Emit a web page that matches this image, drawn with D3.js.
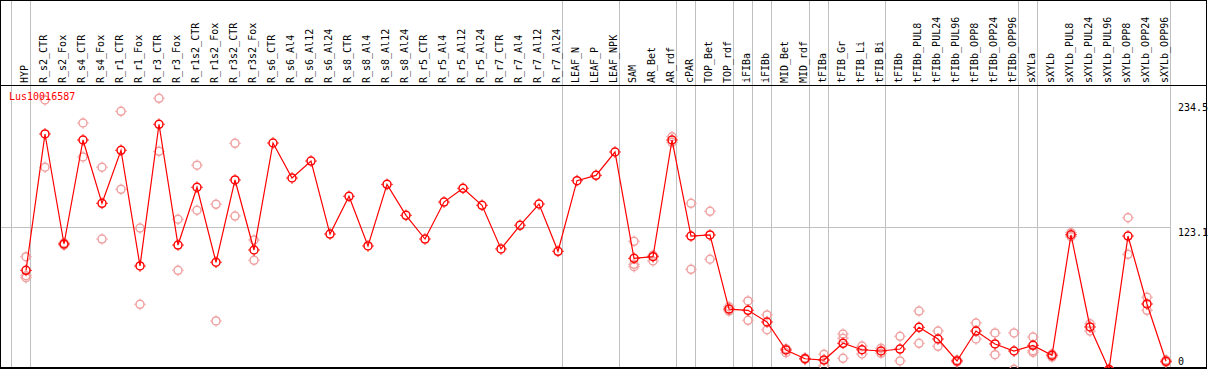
<!DOCTYPE html>
<html>
<head>
<meta charset="utf-8">
<script src="https://cdn.jsdelivr.net/npm/d3@7"></script>
<style>
  body { margin: 0; background: #fff; }
  text { font-family: "DejaVu Sans Mono", "Liberation Mono", monospace; font-size: 10px; }
</style>
</head>
<body>
<svg id="chart" width="1209" height="370"></svg>
<script>
var geneName = "Lus10016587";

var samples = ["HYP","R_s2_CTR","R_s2_Fox","R_s4_CTR","R_s4_Fox","R_r1_CTR","R_r1_Fox","R_r3_CTR","R_r3_Fox",
  "R_r1s2_CTR","R_r1s2_Fox","R_r3s2_CTR","R_r3s2_Fox","R_s6_CTR","R_s6_Al4","R_s6_Al12","R_s6_Al24",
  "R_s8_CTR","R_s8_Al4","R_s8_Al12","R_s8_Al24","R_r5_CTR","R_r5_Al4","R_r5_Al12","R_r5_Al24",
  "R_r7_CTR","R_r7_Al4","R_r7_Al12","R_r7_Al24","LEAF_N","LEAF_P","LEAF_NPK","SAM","AR_Bet","AR_rdf",
  "cPAR","TOP_Bet","TOP_rdf","iFIBa","iFIBb","MID_Bet","MID_rdf","tFIBa","tFIB_Gr","tFIB_Li","tFIB_Bi",
  "tFIBb","tFIBb_PUL8","tFIBb_PUL24","tFIBb_PUL96","tFIBb_OPP8","tFIBb_OPP24","tFIBb_OPP96",
  "sXYLa","sXYLb","sXYLb_PUL8","sXYLb_PUL24","sXYLb_PUL96","sXYLb_OPP8","sXYLb_OPP24","sXYLb_OPP96"];

// mean expression per sample
var meanValues = [85.8,203.8,108.6,198.6,143.8,189.7,89.6,212.2,107.7,157.7,92.8,164.0,103.4,
  196.0,165.7,180.4,117.2,149.9,106.9,160.2,133.4,112.9,144.9,156.8,142.1,104.3,124.8,143.2,102.3,
  163.4,168.0,188.2,96.2,97.6,198.6,115.5,116.4,52.3,51.2,41.1,16.9,9.3,8.2,22.7,17.1,16.0,
  17.7,36.5,26.4,7.4,33.3,22.1,16.0,20.9,12.3,116.6,36.8,0,115.5,56.7,7.1];

// replicates (null = none shown)
var rep1 = [97.6,233.2,109.5,213.3,175.0,223.4,122.4,234.7,130.0,176.8,142.9,195.7,112.1,
  null,null,null,null,null,null,null,null,null,null,null,null,null,null,null,null,null,null,null,
  110.9,98.8,201.4,143.8,136.9,54.3,59.3,47.2,18.0,10.0,13.2,30.7,20.3,18.3,
  28.7,50.6,33.3,8.2,40.2,31.6,31.6,28.1,13.4,118.4,39.6,0.2,131.3,62.5,8.2];
var rep2 = [81.2,175.0,107.7,183.9,112.9,155.9,56.4,188.8,85.8,137.8,42.0,132.8,94.5,
  null,null,null,null,null,null,null,null,null,null,null,null,null,null,null,null,null,null,null,
  91.0,93.9,196.6,86.7,95.4,50.6,42.6,34.4,14.5,8.7,3.3,27.0,13.4,14.0,
  7.4,22.7,20.1,6.5,26.4,12.8,0.2,16.3,10.8,114.9,33.3,0,99.7,51.2,6.1];
var rep3 = [79.4,null,null,null,null,null,null,null,null,null,null,null,null,
  null,null,null,null,null,null,null,null,null,null,null,null,null,null,null,null,null,null,null,
  89.0,null,null,null,null,null,null,null,null,null,null,9.7,null,null,
  null,null,null,null,null,null,null,14.9,null,null,null,null,null,null,null];

// sample index after which a group separator is drawn
var groupBreaks = [0,1,29,32,35,36,38,39,40,42,43,46,53,54,61];

var axisTicks = [234.5, 123.1, 0];
var refLine = 123.1;

var svg = d3.select('#chart'),
    width = +svg.attr('width'),
    height = +svg.attr('height');

var headerBottom = 85,
    plotBottom = 368;

var x = d3.scaleBand()
    .domain(samples)
    .range([11, 1170]);

var y = d3.scaleLinear()
    .domain([0, 234.5])
    .range([369.5, 98.5]);

function px(i) { return x(samples[i]) + x.bandwidth() - 4; }

svg.append('defs').append('clipPath').attr('id', 'plotclip')
  .append('rect')
    .attr('x', 1).attr('y', headerBottom + 1)
    .attr('width', 1205).attr('height', plotBottom - headerBottom - 1);

// group separators
svg.append('g').selectAll('line')
  .data(groupBreaks)
  .enter().append('line')
    .attr('x1', function(d) { return 11 + d * x.bandwidth() + 0.5; })
    .attr('x2', function(d) { return 11 + d * x.bandwidth() + 0.5; })
    .attr('y1', 0)
    .attr('y2', plotBottom)
    .attr('stroke', '#c0c0c0');

// reference line
svg.append('line')
    .attr('x1', 1).attr('x2', 1170)
    .attr('y1', Math.round(y(refLine)) + 0.5)
    .attr('y2', Math.round(y(refLine)) + 0.5)
    .attr('stroke', '#c0c0c0');

// sample labels
svg.append('g').selectAll('text')
  .data(samples)
  .enter().append('text')
    .attr('transform', function(d) {
      return 'translate(' + (x(d) + x.bandwidth() - 2) + ',' + 83 + ') rotate(-90)';
    })
    .attr('fill', '#000')
    .text(function(d) { return d; });

// frame
svg.append('rect')
    .attr('x', 0.5).attr('y', 0.5)
    .attr('width', 1206).attr('height', plotBottom)
    .attr('fill', 'none')
    .attr('stroke', '#000');
svg.append('line')
    .attr('x1', 0).attr('x2', 1207)
    .attr('y1', headerBottom + 0.5).attr('y2', headerBottom + 0.5)
    .attr('stroke', '#000');
svg.append('line')
    .attr('x1', 0).attr('x2', 1207)
    .attr('y1', plotBottom).attr('y2', plotBottom)
    .attr('stroke', '#000')
    .attr('stroke-width', 2);

// right axis labels
svg.append('g').selectAll('text')
  .data(axisTicks)
  .enter().append('text')
    .attr('x', 1178)
    .attr('y', function(d) { return Math.min(Math.max(y(d) + 9, 111), 365); })
    .attr('fill', '#000')
    .text(function(d) { return d; });

var plot = svg.append('g').attr('clip-path', 'url(#plotclip)');

function marker(sel, color) {
  sel.append('circle')
    .attr('r', 4)
    .attr('fill', 'none')
    .attr('stroke', color)
    .attr('stroke-width', 1.5);
  sel.append('path')
    .attr('d', 'M0,-4.5V-5.8M0,4.5V5.8M-4.5,0H-5.8M4.5,0H5.8')
    .attr('stroke', color)
    .attr('stroke-width', 1);
}

// replicate points
var reps = [];
[rep1, rep2, rep3].forEach(function(r) {
  r.forEach(function(v, i) { if (v !== null) reps.push({i: i, v: v}); });
});

plot.append('g').selectAll('g')
  .data(reps)
  .enter().append('g')
    .attr('transform', function(d) { return 'translate(' + px(d.i) + ',' + y(d.v) + ')'; })
    .call(marker, '#f0a0a0');

// mean line
var line = d3.line()
    .x(function(d, i) { return px(i); })
    .y(function(d) { return y(d); });

plot.append('path')
    .datum(meanValues)
    .attr('d', line)
    .attr('fill', 'none')
    .attr('stroke', '#ff0000')
    .attr('stroke-width', 1.2);

plot.append('g').selectAll('g')
  .data(meanValues)
  .enter().append('g')
    .attr('transform', function(d, i) { return 'translate(' + px(i) + ',' + y(d) + ')'; })
    .call(marker, '#ff0000');

svg.append('text')
    .attr('x', 9)
    .attr('y', 100)
    .attr('fill', '#ff0000')
    .text(geneName);
</script>
</body>
</html>
